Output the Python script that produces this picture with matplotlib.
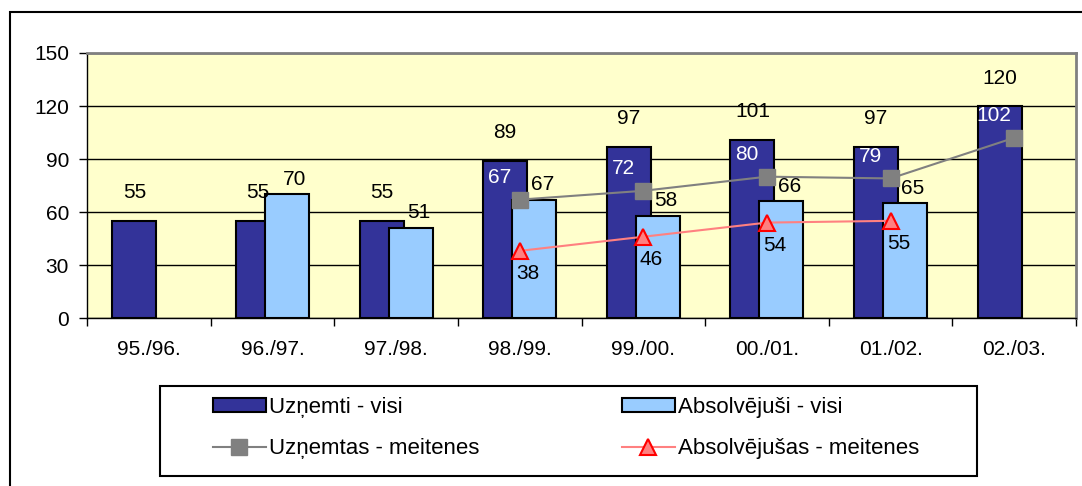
import numpy as np
import matplotlib
matplotlib.use("Agg")
import matplotlib.pyplot as plt
from matplotlib.patches import Rectangle

# ---------------- data ----------------
categories = ["95./96.", "96./97.", "97./98.", "98./99.", "99./00.", "00./01.", "01./02.", "02./03."]
uznemti_visi = [55, 55, 55, 89, 97, 101, 97, 120]
absolvejusi_visi = [None, 70, 51, 67, 58, 66, 65, None]
uznemtas_meitenes = [None, None, None, 67, 72, 80, 79, 102]
absolvejusas_meitenes = [None, None, None, 38, 46, 54, 55, None]
y_ticks = [0, 30, 60, 90, 120, 150]
series_names = ["Uzņemti - visi", "Absolvējuši - visi",
                "Uzņemtas - meitenes", "Absolvējušas - meitenes"]

# ---------------- style ----------------
plt.rcParams["font.family"] = ["Liberation Sans", "DejaVu Sans"]
FS = 15
LFS = 16
DARK = "#333399"
LIGHT = "#99CCFF"
BG = "#FFFFCC"
GRAY = "#808080"
RED_LINE = "#FF8080"
RED_EDGE = "#FF0000"

def arr(v):
    return np.array([np.nan if e is None else e for e in v], dtype=float)

uv = arr(uznemti_visi)
av = arr(absolvejusi_visi)
um = arr(uznemtas_meitenes)
am = arr(absolvejusas_meitenes)
x = np.arange(len(categories))

fig = plt.figure(figsize=(10.82, 4.86), dpi=100)
ax = fig.add_axes([87 / 1082, 1 - 318 / 486, (1076 - 87) / 1082, (318 - 53) / 486])
ax.set_facecolor(BG)

off = 0.117
bw = 0.356
m1 = ~np.isnan(uv)
m2 = ~np.isnan(av)
b1 = ax.bar(x[m1] - off, uv[m1], bw, color=DARK, edgecolor="black", linewidth=1.5, zorder=3,
            label=series_names[0])
b2 = ax.bar(x[m2] + off, av[m2], bw, color=LIGHT, edgecolor="black", linewidth=1.5, zorder=4,
            label=series_names[1])
l1, = ax.plot(x, um, color=GRAY, lw=1.5, marker="s", markersize=12, markerfacecolor=GRAY,
              markeredgecolor=GRAY, zorder=5, label=series_names[2])
l2, = ax.plot(x, am, color=RED_LINE, lw=1.5, marker="^", markersize=12, markerfacecolor=RED_LINE,
              markeredgecolor=RED_EDGE, markeredgewidth=1.5, zorder=6, label=series_names[3])

# data labels
for xi, v in zip(x[m1], uv[m1]):
    ax.annotate(f"{int(v)}", (xi - off, v), xytext=(0, 28), textcoords="offset pixels",
                ha="center", va="center", fontsize=FS, color="black", zorder=7)
for xi, v in zip(x[m2], av[m2]):
    ax.annotate(f"{int(v)}", (xi + off, v), xytext=(8, 15), textcoords="offset pixels",
                ha="center", va="center", fontsize=FS, color="black", zorder=7)
for xi, v in zip(x, um):
    if not np.isnan(v):
        ax.annotate(f"{int(v)}", (xi, v), xytext=(-20, 22), textcoords="offset pixels",
                    ha="center", va="center", fontsize=FS, color="white", zorder=7)
for xi, v in zip(x, am):
    if not np.isnan(v):
        ax.annotate(f"{int(v)}", (xi, v), xytext=(8, -23), textcoords="offset pixels",
                    ha="center", va="center", fontsize=FS, color="black", zorder=7)

# axes
ax.set_xlim(-0.5, len(categories) - 0.5)
ax.set_ylim(y_ticks[0], y_ticks[-1])
ax.set_yticks(y_ticks)
ax.set_yticklabels([str(t) for t in y_ticks], fontsize=FS)
ax.set_xticks(x)
ax.set_xticklabels(categories, fontsize=FS)
ax.set_xticks(np.arange(len(categories) + 1) - 0.5, minor=True)
ax.tick_params(axis="x", which="major", length=0, pad=16)
ax.tick_params(axis="x", which="minor", length=6, width=1, color="black", direction="out")
ax.tick_params(axis="y", length=6, width=1, color="black", direction="out", pad=7)
ax.yaxis.grid(True, color="black", lw=1, zorder=1)
ax.set_axisbelow(True)
for s in ("top", "right"):
    ax.spines[s].set_color(GRAY)
    ax.spines[s].set_linewidth(2)
for s in ("left", "bottom"):
    ax.spines[s].set_color("black")
    ax.spines[s].set_linewidth(1)

# legend (row-wise order: bars in first row, lines in second)
handles = [b1, l1, b2, l2]
labels = [series_names[0], series_names[2], series_names[1], series_names[3]]
leg = fig.legend(handles, labels, ncol=2, loc="center",
                 bbox_to_anchor=(566 / 1082, 1 - 428 / 486), frameon=False, fontsize=LFS,
                 handlelength=2.39, handleheight=0.63, handletextpad=0.14, columnspacing=6.4,
                 labelspacing=0.92)
leg_box = Rectangle((160 / 1082, 1 - 476 / 486), (977 - 160) / 1082, (476 - 386) / 486,
                    transform=fig.transFigure, fill=False, edgecolor="black", lw=1.5)
fig.add_artist(leg_box)

# outer frame
frame = Rectangle((10 / 1082, -0.05), 1.1, 1 - 12.3 / 486 + 0.05,
                  transform=fig.transFigure, fill=False, edgecolor="black", lw=1.5,
                  clip_on=False)
fig.add_artist(frame)

fig.savefig("out.png", dpi=100)
